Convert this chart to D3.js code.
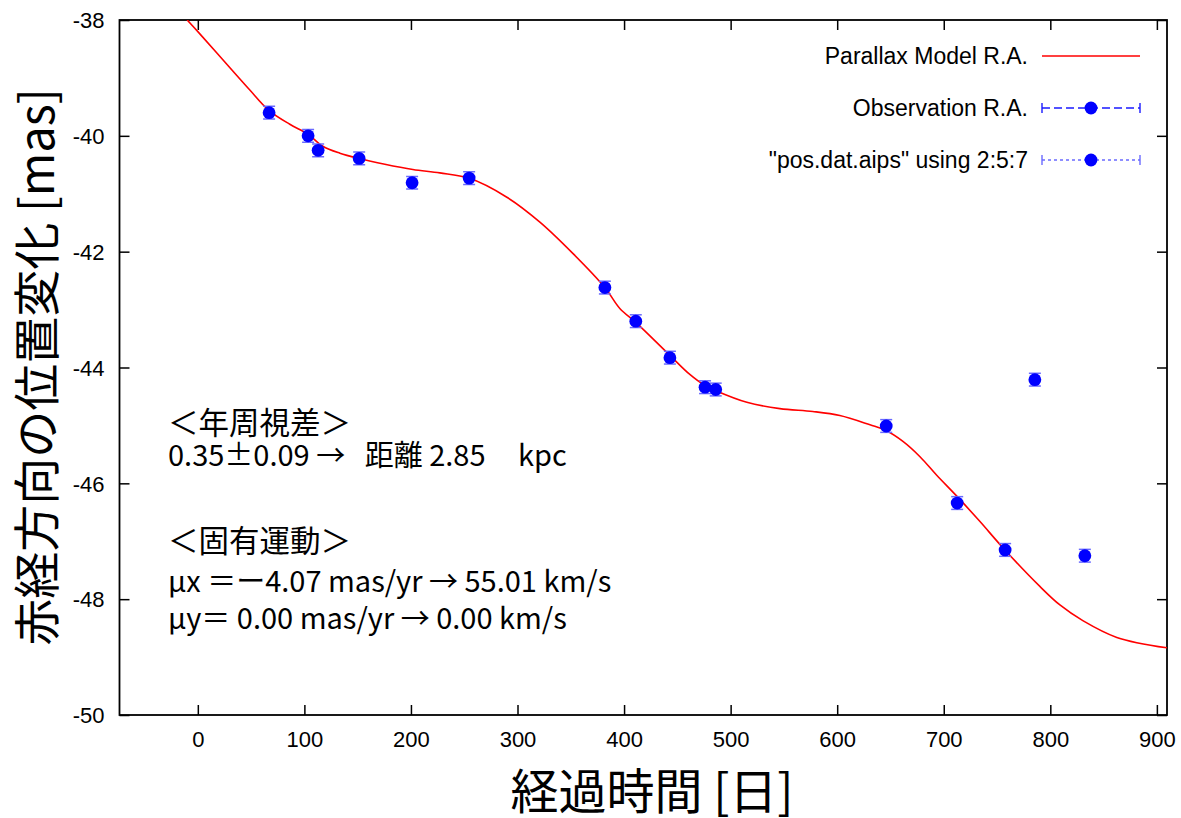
<!DOCTYPE html>
<html>
<head>
<meta charset="utf-8">
<script src="https://cdn.jsdelivr.net/npm/d3@7"></script>
<style>
  html, body { margin: 0; padding: 0; background: #fff; }
  svg { display: block; }
  text { white-space: pre; }
</style>
</head>
<body>
<script>
// Observed R.A. offsets (elapsed days, mas, 1-sigma error)
const obsDays   = [66.9, 103.5, 112.9, 151.4, 201.1, 254.6, 382.0, 411.0, 443.0, 476.0, 486.0, 646.0, 712.6, 757.6, 785.5, 832.4];
const obsRA     = [-39.60, -40.00, -40.25, -40.39, -40.81, -40.73, -42.62, -43.20, -43.83, -44.34, -44.38, -45.01, -46.34, -47.15, -44.21, -47.25];
const obsErr    = [0.11, 0.11, 0.11, 0.11, 0.11, 0.11, 0.11, 0.11, 0.11, 0.11, 0.11, 0.11, 0.11, 0.11, 0.11, 0.11];

// Parallax + proper-motion model, sampled along the fitted curve
const modelDays = [-10.0, 1.9, 34.7, 48.8, 66.6, 86.3, 103.2, 117.3, 133.3, 151.1, 175.5, 201.8, 227.1, 254.3, 290.0, 321.0, 351.9, 382.0, 396.0, 411.0, 443.0, 461.7, 475.8, 486.1, 515.2, 546.2, 577.1, 602.5, 630.8, 644.9, 662.0, 677.7, 693.4, 712.7, 734.0, 755.9, 790.2, 809.0, 830.5, 862.4, 909.4];
const modelRA   = [-38.00, -38.24, -38.92, -39.21, -39.56, -39.80, -39.97, -40.18, -40.30, -40.39, -40.49, -40.58, -40.64, -40.73, -41.06, -41.49, -42.03, -42.62, -42.98, -43.22, -43.79, -44.12, -44.31, -44.40, -44.60, -44.71, -44.76, -44.83, -44.99, -45.08, -45.28, -45.54, -45.86, -46.23, -46.66, -47.12, -47.78, -48.10, -48.37, -48.66, -48.84];

const xTicks = [0, 100, 200, 300, 400, 500, 600, 700, 800, 900];
const yTicks = [-50, -48, -46, -44, -42, -40, -38];

const legendLabels = ["Parallax Model R.A.", "Observation R.A.", "\"pos.dat.aips\" using 2:5:7"];

const noteLines = [
  "＜年周視差＞",
  "0.35±0.09 →   距離 2.85     kpc",
  "＜固有運動＞",
  "μx ＝ー4.07 mas/yr → 55.01 km/s",
  "μy＝ 0.00 mas/yr → 0.00 km/s"
];

const W = 1181, H = 818;
const mLeft = 119.5, mRight = 1167, mTop = 20, mBottom = 715;

const x = d3.scaleLinear().domain([-73.5, 909.5]).range([mLeft, mRight]);
const y = d3.scaleLinear().domain([-50, -38]).range([mBottom, mTop]);

const svg = d3.select("body").append("svg").attr("width", W).attr("height", H);

svg.append("defs").append("clipPath").attr("id", "plotclip")
  .append("rect").attr("x", mLeft).attr("y", mTop).attr("width", mRight - mLeft).attr("height", mBottom - mTop);

const tickFont = "'Liberation Sans', Arial, sans-serif";
const cjkFont = "'Noto Sans CJK JP', 'Noto Sans', sans-serif";
const plain = d => String(d);

// Axes with inward ticks on all four sides
const axB = svg.append("g").attr("transform", `translate(0,${mBottom})`)
  .call(d3.axisBottom(x).tickValues(xTicks).tickFormat(plain).tickSizeInner(-10).tickSizeOuter(0).tickPadding(16));
const axT = svg.append("g").attr("transform", `translate(0,${mTop})`)
  .call(d3.axisTop(x).tickValues(xTicks).tickSizeInner(-10).tickSizeOuter(0).tickFormat(""));
const axL = svg.append("g").attr("transform", `translate(${mLeft},0)`)
  .call(d3.axisLeft(y).tickValues(yTicks).tickFormat(plain).tickSizeInner(-10).tickSizeOuter(0).tickPadding(15));
const axR = svg.append("g").attr("transform", `translate(${mRight},0)`)
  .call(d3.axisRight(y).tickValues(yTicks).tickSizeInner(-10).tickSizeOuter(0).tickFormat(""));

[axB, axT, axL, axR].forEach(a => {
  a.select(".domain").remove();
  a.selectAll(".tick line").attr("stroke", "#000").attr("stroke-width", 1.5);
  a.selectAll(".tick text").attr("font-family", tickFont).attr("font-size", 22).attr("fill", "#000");
});
axB.selectAll(".tick text").attr("dy", "0.71em");
axL.selectAll(".tick text").attr("dy", "0.35em");

// Plot frame
svg.append("rect").attr("x", mLeft).attr("y", mTop).attr("width", mRight - mLeft).attr("height", mBottom - mTop)
  .attr("fill", "none").attr("stroke", "#000").attr("stroke-width", 1.8);

const plot = svg.append("g").attr("clip-path", "url(#plotclip)");

// Model curve
const modelPts = modelDays.map((d, i) => [d, modelRA[i]]);
plot.append("path")
  .datum(modelPts)
  .attr("fill", "none").attr("stroke", "#ff0000").attr("stroke-width", 1.6)
  .attr("d", d3.line().x(d => x(d[0])).y(d => y(d[1])).curve(d3.curveCatmullRom.alpha(0.5)));

// Observations with error bars
const obs = obsDays.map((d, i) => ({ t: d, v: obsRA[i], e: obsErr[i] }));
const eb = plot.append("g").attr("stroke", "#6a6aff").attr("stroke-width", 1.5);
eb.selectAll("line.v").data(obs).join("line").attr("class", "v")
  .attr("x1", d => x(d.t)).attr("x2", d => x(d.t))
  .attr("y1", d => y(d.v - d.e)).attr("y2", d => y(d.v + d.e));
eb.selectAll("line.c1").data(obs).join("line").attr("class", "c1")
  .attr("x1", d => x(d.t) - 6).attr("x2", d => x(d.t) + 6)
  .attr("y1", d => y(d.v - d.e)).attr("y2", d => y(d.v - d.e));
eb.selectAll("line.c2").data(obs).join("line").attr("class", "c2")
  .attr("x1", d => x(d.t) - 6).attr("x2", d => x(d.t) + 6)
  .attr("y1", d => y(d.v + d.e)).attr("y2", d => y(d.v + d.e));
plot.append("g").selectAll("circle").data(obs).join("circle")
  .attr("cx", d => x(d.t)).attr("cy", d => y(d.v)).attr("r", 6.4).attr("fill", "#0000ff");

// Legend
const lgX0 = 1042, lgX1 = 1140, lgTextX = 1028;
const lgY = [56, 108, 160];
const lg = svg.append("g").attr("font-family", tickFont).attr("font-size", 23).attr("fill", "#000");
lgY.forEach((yy, i) => {
  lg.append("text").attr("x", lgTextX).attr("y", yy).attr("dy", "0.35em")
    .attr("text-anchor", "end").text(legendLabels[i]);
});
svg.append("line").attr("x1", lgX0).attr("x2", lgX1).attr("y1", lgY[0]).attr("y2", lgY[0])
  .attr("stroke", "#ff0000").attr("stroke-width", 1.6);
[[lgY[1], "#1a1aff", "8,4"], [lgY[2], "#6a6aff", "3,3"]].forEach(([yy, col, dash]) => {
  const g = svg.append("g").attr("stroke", col).attr("stroke-width", 1.4);
  g.append("line").attr("x1", lgX0).attr("x2", lgX1).attr("y1", yy).attr("y2", yy).attr("stroke-dasharray", dash);
  g.append("line").attr("x1", lgX0).attr("x2", lgX0).attr("y1", yy - 5).attr("y2", yy + 5);
  g.append("line").attr("x1", lgX1).attr("x2", lgX1).attr("y1", yy - 5).attr("y2", yy + 5);
  svg.append("circle").attr("cx", (lgX0 + lgX1) / 2).attr("cy", yy).attr("r", 6.4).attr("fill", "#0000ff");
});

// Annotation block
const noteY = [434, 466, 552, 592, 629];
const noteSize = [30.5, 29, 30.5, 29, 29];
const notes = svg.append("g").attr("font-family", cjkFont).attr("fill", "#000");
noteLines.forEach((s, i) => {
  notes.append("text").attr("x", 168).attr("y", noteY[i]).attr("font-size", noteSize[i])
    .attr("xml:space", "preserve").text(s);
});

// Axis titles
svg.append("text").attr("x", 652).attr("y", 809).attr("text-anchor", "middle")
  .attr("font-family", cjkFont).attr("font-size", 48).attr("fill", "#000").text("経過時間 [日]");
svg.append("text").attr("transform", "translate(54,367) rotate(-90)").attr("text-anchor", "middle")
  .attr("font-family", cjkFont).attr("font-size", 47).attr("fill", "#000").text("赤経方向の位置変化 [mas]");
</script>
</body>
</html>
